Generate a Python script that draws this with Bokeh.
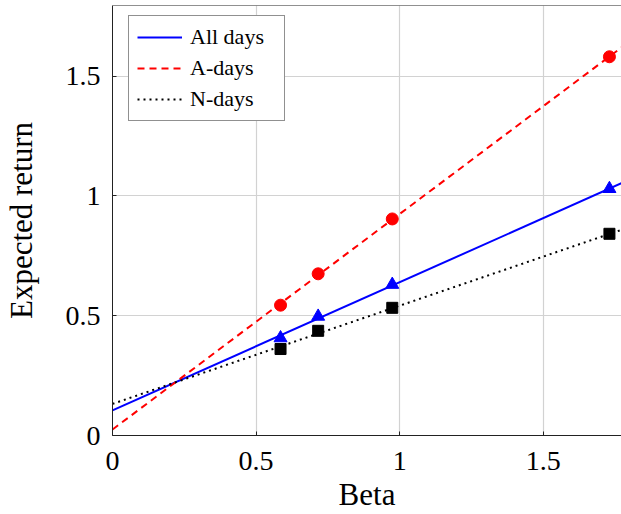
from bokeh.plotting import figure
from bokeh.models import Legend, LegendItem, Span, Range1d, FixedTicker
from bokeh.embed import file_html
from bokeh.resources import INLINE

# Portfolio betas and their expected returns
beta = [0.585, 0.716, 0.974, 1.730]
ret_all = [0.407, 0.497, 0.630, 1.030]
ret_a = [0.544, 0.675, 0.904, 1.581]
ret_n = [0.361, 0.437, 0.533, 0.842]

# Fitted security market lines: intercept and slope per series
series_names = ["All days", "A-days", "N-days"]
fit_intercept = [0.105, 0.025, 0.132]
fit_slope = [0.535, 0.900, 0.410]

x_ticks = [0, 0.5, 1, 1.5]
y_ticks = [0, 0.5, 1, 1.5]
x_max = 1.772
y_max = 1.795

FONT = "Liberation Serif"

p = figure(width=621, height=514, output_backend="svg", toolbar_location=None,
           x_range=Range1d(0, x_max), y_range=Range1d(0, y_max),
           min_border_left=112, min_border_right=0, min_border_top=5,
           min_border_bottom=78)
p.outline_line_color = None

# Grid
for g in (p.xgrid, p.ygrid):
    g.grid_line_color = "#d2d2d2"
    g.grid_line_width = 1.2
p.xaxis.ticker = FixedTicker(ticks=x_ticks)
p.yaxis.ticker = FixedTicker(ticks=y_ticks)

# Axes
for ax in (p.xaxis, p.yaxis):
    ax.axis_line_color = "#222222"
    ax.axis_line_width = 1
    ax.major_tick_in = 4
    ax.major_tick_out = 0
    ax.major_tick_line_color = "#222222"
    ax.minor_tick_line_color = None
    ax.major_label_text_font = FONT
    ax.major_label_text_font_size = "28px"
    ax.major_label_text_color = "black"
    ax.axis_label_text_font = FONT
    ax.axis_label_text_font_size = "31px"
    ax.axis_label_text_font_style = "normal"
    ax.axis_label_text_color = "black"

p.xaxis.axis_label = "Beta"
p.yaxis.axis_label = "Expected return"
p.xaxis.major_label_standoff = 16
p.yaxis.major_label_standoff = 12
p.xaxis.axis_label_standoff = 4
p.yaxis.axis_label_standoff = 24
p.xaxis.major_label_overrides = {0: "0", 0.5: "0.5", 1: "1", 1.5: "1.5"}
p.yaxis.major_label_overrides = {0: "0", 0.5: "0.5", 1: "1", 1.5: "1.5"}

# Top edge of the axis box
p.add_layout(Span(location=y_max, dimension="width", line_color="#222222", line_width=1))

# Fitted lines
line_x = [0, 1.8]
styles = [
    dict(line_color="blue", line_width=2),
    dict(line_color="red", line_width=2, line_dash="7 5"),
    dict(line_color="black", line_width=2, line_dash="2 4"),
]
line_renderers = []
for b0, b1, st in zip(fit_intercept, fit_slope, styles):
    ys = [b0 + b1 * x for x in line_x]
    line_renderers.append(p.line(line_x, ys, **st))

# Observed points
p.scatter(beta, ret_all, marker="triangle", size=13, color="blue")
p.scatter(beta, ret_a, marker="circle", size=12, color="red")
p.scatter(beta, ret_n, marker="square", size=11, color="black")

legend = Legend(
    items=[LegendItem(label=n, renderers=[r]) for n, r in zip(series_names, line_renderers)],
    location=(16, 314),
    glyph_width=45, glyph_height=20, spacing=5, padding=8, margin=0,
    label_standoff=8, label_width=86,
    label_text_font=FONT, label_text_font_size="22px", label_text_color="black",
    border_line_color="#222222", border_line_width=1,
    background_fill_color="white", background_fill_alpha=1,
)
p.add_layout(legend)

open("out.html", "w").write(file_html(p, INLINE))
